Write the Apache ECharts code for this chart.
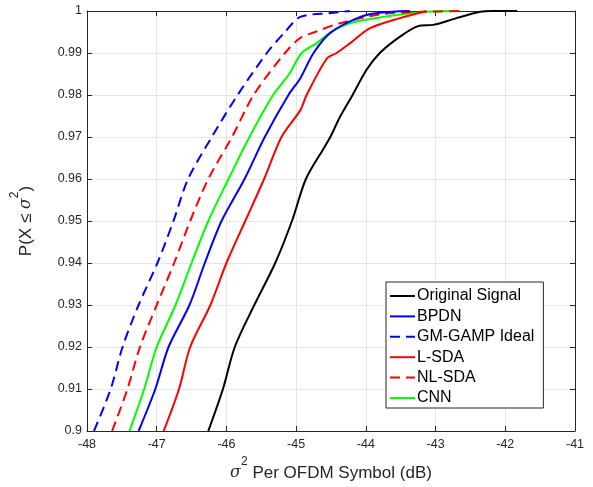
<!DOCTYPE html>
<html>
<head>
<meta charset="utf-8">
<script src="https://cdn.jsdelivr.net/npm/echarts@6/dist/echarts.min.js"></script>
<style>
html,body{margin:0;padding:0;background:#fff;}
#chart{width:593px;height:487px;}
</style>
</head>
<body>
<div id="chart"></div>
<script>
// ---- Data (x in dB, y = CDF probability) ----
const seriesNames = ['Original Signal', 'BPDN', 'GM-GAMP Ideal', 'L-SDA', 'NL-SDA', 'CNN'];
const xTicks = [-48, -47, -46, -45, -44, -43, -42, -41];
const yTicks = [0.9, 0.91, 0.92, 0.93, 0.94, 0.95, 0.96, 0.97, 0.98, 0.99, 1];

const originalSignal = [
  [-46.26,0.900],[-46.05,0.910],[-45.88,0.920],[-45.60,0.930],[-45.30,0.940],[-45.06,0.950],
  [-44.86,0.960],[-44.59,0.9677],[-44.51,0.970],[-44.37,0.9748],[-44.19,0.980],[-43.99,0.986],
  [-43.80,0.990],[-43.51,0.9939],[-43.25,0.9964],[-43.03,0.9967],[-42.70,0.9983],[-42.36,0.9998],
  [-42.20,1.000],[-41.83,1.000]
];
const bpdn = [
  [-47.26,0.900],[-47.02,0.910],[-46.83,0.920],[-46.53,0.930],[-46.31,0.940],[-46.07,0.950],
  [-45.74,0.960],[-45.45,0.970],[-45.11,0.980],[-44.94,0.984],[-44.75,0.990],[-44.51,0.9948],
  [-44.08,0.9986],[-43.80,0.9996],[-43.37,1.000]
];
const gmGamp = [
  [-47.90,0.900],[-47.66,0.910],[-47.49,0.920],[-47.26,0.930],[-46.99,0.940],[-46.76,0.950],
  [-46.55,0.960],[-46.21,0.970],[-45.84,0.980],[-45.42,0.990],[-45.16,0.995],[-44.94,0.9986],
  [-44.50,0.9995],[-44.23,1.000]
];
const lSda = [
  [-46.90,0.900],[-46.68,0.910],[-46.52,0.920],[-46.23,0.930],[-46.00,0.940],[-45.73,0.950],
  [-45.46,0.960],[-45.21,0.970],[-44.94,0.9764],[-44.85,0.980],[-44.56,0.9887],[-44.42,0.990],
  [-44.23,0.9923],[-43.94,0.9959],[-43.51,0.9983],[-43.13,1.000]
];
const nlSda = [
  [-47.64,0.900],[-47.42,0.910],[-47.24,0.920],[-47.00,0.930],[-46.75,0.940],[-46.52,0.950],
  [-46.26,0.960],[-45.92,0.970],[-45.61,0.980],[-45.16,0.990],[-44.94,0.9936],[-44.73,0.995],
  [-44.37,0.9971],[-43.75,0.9993],[-43.20,0.9998],[-42.60,1.000]
];
const cnn = [
  [-47.39,0.900],[-47.18,0.910],[-47.00,0.920],[-46.73,0.930],[-46.50,0.940],[-46.26,0.950],
  [-45.97,0.960],[-45.67,0.970],[-45.33,0.980],[-45.10,0.985],[-44.92,0.990],[-44.70,0.9924],
  [-44.50,0.995],[-44.23,0.9971],[-43.75,0.9986],[-43.13,0.9998],[-42.70,1.000]
];

const seriesData = [originalSignal, bpdn, gmGamp, lSda, nlSda, cnn];
const seriesColors = ['#000000', '#0000ff', '#0000ff', '#ff0000', '#ff0000', '#00ff00'];
const seriesDashed = [false, false, true, false, true, false];

const FONT = 'Liberation Sans, Arial, Helvetica, sans-serif';
const AXIS_COLOR = '#262626';
const GRID_COLOR = '#e6e6e6';

const chart = echarts.init(document.getElementById('chart'), null, {renderer: 'canvas'});

const titleRich = {
  i: {fontFamily: 'DejaVu Serif, Liberation Serif, serif', fontStyle: 'italic', fontSize: 16, color: AXIS_COLOR},
  s: {fontFamily: FONT, fontSize: 12, color: AXIS_COLOR, padding: [0, 0, 22, 0]}
};

const baseX = {
  type: 'value', min: xTicks[0], max: xTicks[xTicks.length - 1], interval: 1,
  axisLine: {show: true, onZero: false, lineStyle: {color: AXIS_COLOR, width: 1}},
  axisTick: {show: true, inside: true, length: 5, lineStyle: {color: AXIS_COLOR}}
};
const baseY = {
  type: 'value', min: yTicks[0], max: yTicks[yTicks.length - 1], interval: 0.01,
  axisLine: {show: true, onZero: false, lineStyle: {color: AXIS_COLOR, width: 1}},
  axisTick: {show: true, inside: true, length: 5, lineStyle: {color: AXIS_COLOR}}
};

const option = {
  backgroundColor: '#ffffff',
  animation: false,
  grid: {left: 87, right: 18, top: 11, bottom: 56, containLabel: false},
  xAxis: [
    Object.assign({}, baseX, {
      position: 'bottom',
      splitLine: {show: true, lineStyle: {color: GRID_COLOR, width: 1}},
      axisLabel: {show: true, fontFamily: FONT, fontSize: 12.5, color: AXIS_COLOR, margin: 7,
        formatter: v => String(Math.round(v))},
      name: '{i|σ}{s|2} Per OFDM Symbol (dB)',
      nameLocation: 'middle',
      nameGap: 22,
      nameTextStyle: {fontFamily: FONT, fontSize: 17, color: AXIS_COLOR, rich: titleRich}
    }),
    Object.assign({}, baseX, {
      position: 'top',
      splitLine: {show: false},
      axisLabel: {show: false}
    })
  ],
  yAxis: [
    Object.assign({}, baseY, {
      position: 'left',
      splitLine: {show: true, lineStyle: {color: GRID_COLOR, width: 1}},
      axisLabel: {show: true, fontFamily: FONT, fontSize: 12.5, color: AXIS_COLOR, margin: 5,
        formatter: v => {
          const r = Math.round(v * 100) / 100;
          return r === 1 ? '1' : (r === 0.9 ? '0.9' : r.toFixed(2));
        }},
      name: 'P(X ≤ {i|σ}{s|2})',
      nameLocation: 'middle',
      nameGap: 44,
      nameRotate: 90,
      nameTextStyle: {fontFamily: FONT, fontSize: 17, color: AXIS_COLOR, rich: titleRich}
    }),
    Object.assign({}, baseY, {
      position: 'right',
      splitLine: {show: false},
      axisLabel: {show: false}
    })
  ],
  legend: {
    orient: 'vertical',
    left: 386,
    top: 282,
    data: seriesNames,
    backgroundColor: '#ffffff',
    borderColor: AXIS_COLOR,
    borderWidth: 1,
    borderRadius: 0,
    padding: [6, 9, 2, 3],
    itemWidth: 25,
    itemHeight: 14,
    itemGap: 4.4,
    selectedMode: false,
    itemStyle: {opacity: 0},
    textStyle: {fontFamily: FONT, fontSize: 16, color: '#000000', padding: [0, 0, 0, -3]}
  },
  series: seriesNames.map((name, k) => ({
    name: name,
    type: 'line',
    xAxisIndex: 0,
    yAxisIndex: 0,
    data: seriesData[k],
    showSymbol: false,
    symbol: 'none',
    smooth: 0.3,
    clip: true,
    z: 10 - k,
    color: seriesColors[k],
    lineStyle: {color: seriesColors[k], width: 2, type: seriesDashed[k] ? [10, 6] : 'solid'}
  }))
};

chart.setOption(option);
</script>
</body>
</html>
